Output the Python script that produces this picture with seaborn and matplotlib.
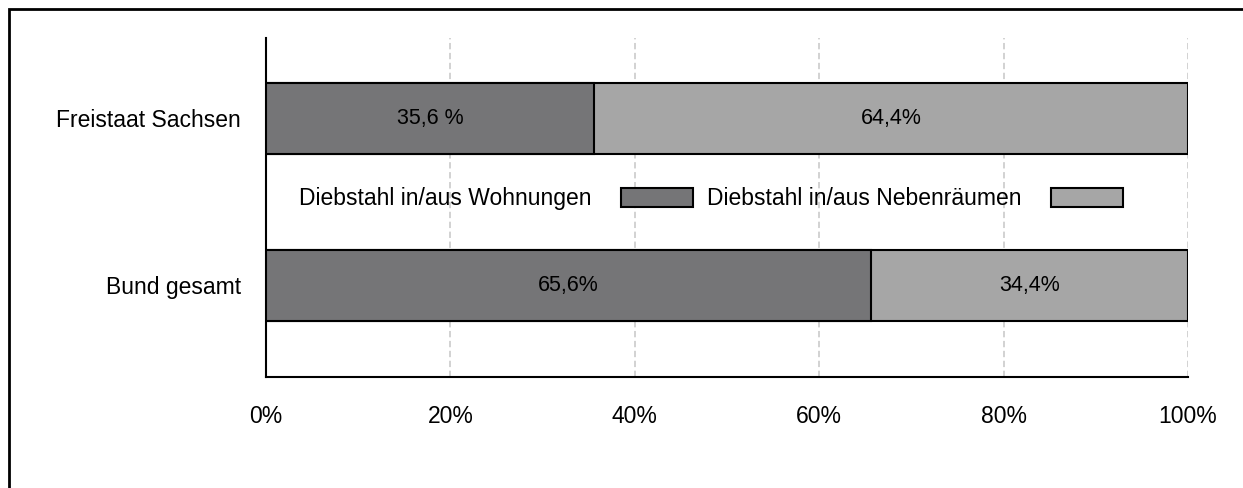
import matplotlib
matplotlib.use("Agg")
import matplotlib.pyplot as plt
import matplotlib.patches as mpatches
import seaborn as sns
import pandas as pd

# data
regions = ["Freistaat Sachsen", "Bund gesamt"]
wohnungen = [35.6, 65.6]
nebenraeume = [64.4, 34.4]
labels_wohnungen = ["35,6 %", "65,6%"]
labels_nebenraeume = ["64,4%", "34,4%"]
series_names = ["Diebstahl in/aus Wohnungen", "Diebstahl in/aus Nebenräumen"]
xticks = [0, 20, 40, 60, 80, 100]

dark = "#757577"
light = "#a6a6a6"

sns.set_style("white")
plt.rcParams["font.family"] = ["Liberation Sans", "DejaVu Sans"]
plt.rcParams["text.color"] = "black"
plt.rcParams["xtick.labelcolor"] = "black"
plt.rcParams["ytick.labelcolor"] = "black"

df = pd.DataFrame({"region": regions, "wohnungen": wohnungen, "neben": nebenraeume})
df["total"] = df["wohnungen"] + df["neben"]

fig = plt.figure(figsize=(12.43, 4.88), dpi=100)
ax = fig.add_axes([0.214, 0.2275, 0.7418, 0.6947])

# stacked: full bar in light, then dark part on top
sns.barplot(data=df, x="total", y="region", orient="h", color=light, width=0.425,
            edgecolor="black", linewidth=1.5, saturation=1, ax=ax, zorder=3)
sns.barplot(data=df, x="wohnungen", y="region", orient="h", color=dark, width=0.425,
            edgecolor="black", linewidth=1.5, saturation=1, ax=ax, zorder=4)

for i, row in df.iterrows():
    ax.text(row["wohnungen"] / 2, i, labels_wohnungen[i], ha="center", va="center",
            fontsize=15.5, color="black", zorder=5)
    ax.text(row["wohnungen"] + row["neben"] / 2, i, labels_nebenraeume[i], ha="center",
            va="center", fontsize=15.5, color="black", zorder=5)

ax.set_xlim(0, 100)
ax.set_ylim(1.548, -0.482)
ax.set_xticks(xticks)
ax.set_xticklabels([f"{t}%" for t in xticks])
ax.set_xlabel("")
ax.set_ylabel("")

ax.xaxis.grid(True, linestyle=(0, (3.5, 2)), color="#cfcfcf", linewidth=1.3, zorder=0)
ax.yaxis.grid(False)
ax.set_axisbelow(True)

for s in ["top", "right"]:
    ax.spines[s].set_visible(False)
for s in ["left", "bottom"]:
    ax.spines[s].set_color("black")
    ax.spines[s].set_linewidth(1.5)

ax.tick_params(axis="x", direction="out", length=5, width=1.2, color="black",
               pad=15, labelsize=16.5)
ax.tick_params(axis="y", length=0, pad=18, labelsize=16.5)

handles = [mpatches.Patch(facecolor=dark, edgecolor="black", linewidth=1.5),
           mpatches.Patch(facecolor=light, edgecolor="black", linewidth=1.5)]
ax.legend(handles, series_names, ncol=2, markerfirst=False, frameon=False,
          loc="center", bbox_to_anchor=(0.4826, 0.525), fontsize=16.5,
          handlelength=3.14, handleheight=0.92, handletextpad=1.27,
          columnspacing=0.61)

# outer frame (left and top edges visible)
frame = mpatches.Rectangle((9 / 1243, -0.2), 1.5, 1.2 - 8.5 / 488,
                           transform=fig.transFigure, fill=False,
                           edgecolor="black", linewidth=2, clip_on=False)
fig.patches.append(frame)

fig.savefig("out.png", dpi=100, facecolor="white")
